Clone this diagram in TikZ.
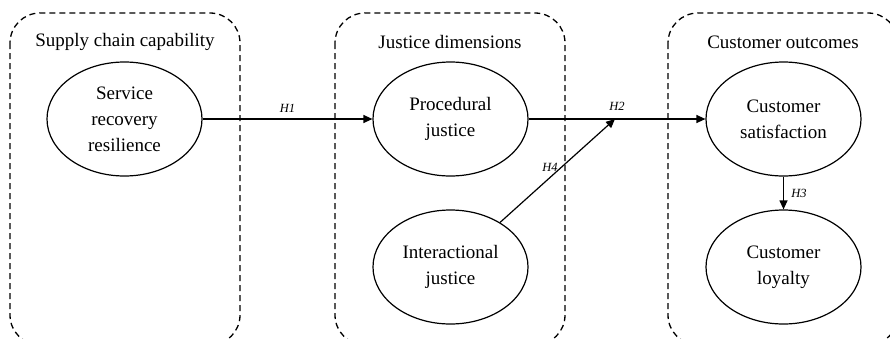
\documentclass[tikz,border=0pt]{standalone}
\usepackage{fontspec}
\setmainfont{Liberation Serif}
\usetikzlibrary{shapes.geometric,arrows.meta}
\begin{document}
\begin{tikzpicture}[x=1pt,y=-1pt,
  group/.style={draw,line width=1.3pt,dash pattern=on 6pt off 4pt,rounded corners=30pt},
  construct/.style={draw,ellipse,line width=1.2pt,minimum width=155pt,minimum height=114pt,inner sep=0pt,align=center,font=\fontsize{19}{26}\selectfont},
  title/.style={font=\fontsize{19}{22}\selectfont},
  hyp/.style={font=\fontsize{12.5}{14}\selectfont\itshape},
  link/.style={line width=1.2pt,-{Triangle[length=9pt,width=8pt]}}]
\useasboundingbox (0,0) rectangle (890,338);
\clip (0,0) rectangle (890,338);
\draw[group] (10,13) rectangle (240,345);
\draw[group] (335,13) rectangle (565,345);
\draw[group] (668,13) rectangle (898,345);
\node[title] (t1) at (125,42) {Supply chain capability};
\node[title] (t2) at (450,42) {Justice dimensions};
\node[title] (t3) at (783,42) {Customer outcomes};
\node[construct] (srr) at (124.5,119) {Service\\recovery\\resilience};
\node[construct] (pj) at (450.5,119) {Procedural\\justice};
\node[construct] (ij) at (450.5,267) {Interactional\\justice};
\node[construct] (cs) at (783.5,119) {Customer\\satisfaction};
\node[construct] (cl) at (783.5,267) {Customer\\loyalty};
\coordinate (m) at (615,119);
\draw[link] (srr) -- node[hyp,above=3pt,pos=0.5] {H1} (pj);
\draw[link] (pj) -- (cs);
\node[hyp] (h2) at (617,106) {H2};
\draw[link] (ij) -- (m);
\node[hyp] (h4) at (550,167) {H4};
\draw[link] (cs) -- node[hyp,right=4pt] {H3} (cl);
\end{tikzpicture}
\end{document}
